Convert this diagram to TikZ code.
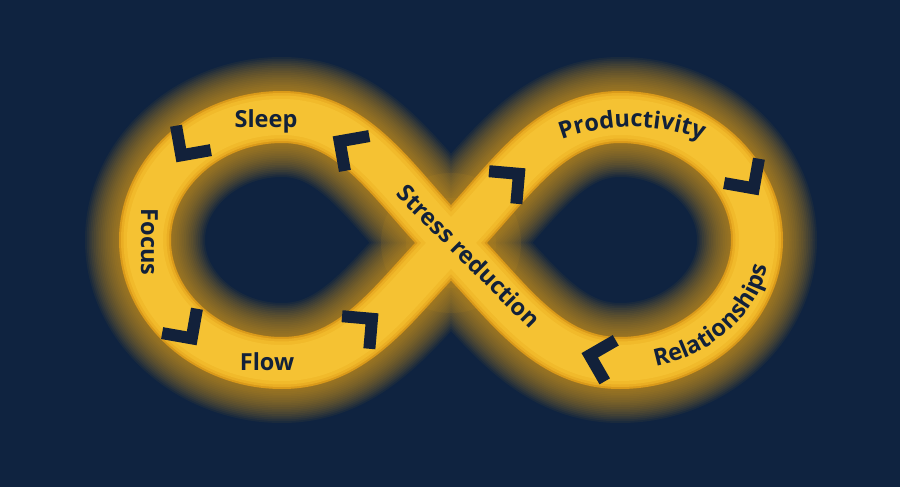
\documentclass[tikz,border=0pt]{standalone}
\usepackage{fontspec}
\setmainfont{Open Sans}
\usetikzlibrary{decorations.text}
\definecolor{bgc}{HTML}{0F2340}
\definecolor{glowc}{HTML}{E6A41A}
\definecolor{bandA}{HTML}{DA9A1A}
\definecolor{bandB}{HTML}{EAAE24}
\definecolor{bandC}{HTML}{F1BA2B}
\definecolor{bandD}{HTML}{F5C233}
\definecolor{inkc}{HTML}{12213A}
\newcommand\lblfont{\fontsize{23.5}{28}\selectfont\bfseries}
\newcommand\infpath{(C) .. controls (506,188) and (545,117) .. (RT)
  .. controls (695,117) and (757,173) .. (RR)
  .. controls (757,307) and (695,363) .. (RB)
  .. controls (545,363) and (506,298) .. (C)
  .. controls (396,188) and (357,117) .. (LT)
  .. controls (207,117) and (145,173) .. (LL)
  .. controls (145,307) and (207,363) .. (LB)
  .. controls (357,363) and (396,298) .. cycle}
\tikzset{
  lbl/.style={text=inkc, font=\lblfont, inner sep=0pt},
  chev/.pic={\fill[inkc] (15,0)--(-10.5,25.5)--(-19,17)--(-2,0)--(-19,-17)--(-10.5,-25.5)--cycle;},
  curvetext/.style={decorate, decoration={text along path, text={|\lblfont|#1}, text align=center, text color=inkc}}
}
\begin{document}
\begin{tikzpicture}[x=1pt,y=-1pt]
\useasboundingbox (0,0) rectangle (900,487);
\fill[bgc] (0,0) rectangle (900,487);
\coordinate (C) at (451,243);
\coordinate (RT) at (620,117);
\coordinate (RR) at (757,240);
\coordinate (RB) at (620,363);
\coordinate (LT) at (282,117);
\coordinate (LL) at (145,240);
\coordinate (LB) at (282,363);
% glow
\foreach \i in {1,...,20}{
  \draw[glowc, line width={(50+3.5*\i)*1pt}, opacity=0.055, line join=round] \infpath;
}
\fill[glowc, opacity=0.08] (C) circle (70);
\fill[glowc, opacity=0.08] (C) circle (45);
% band
\draw[bandA, line width=52pt] \infpath;
\draw[bandB, line width=48pt] \infpath;
\draw[bandC, line width=43pt] \infpath;
\draw[bandD, line width=36pt] \infpath;
% chevrons
\pic[rotate=-125] at (185,150) {chev};
\pic[rotate=145] at (345,145) {chev};
\pic[rotate=-55] at (188,333) {chev};
\pic[rotate=40] at (367,323) {chev};
\pic[rotate=40] at (514,178) {chev};
\pic[rotate=-55] at (750,183) {chev};
\pic[rotate=165] at (596,357) {chev};
% labels
\node[lbl, anchor=base] (sleep) at (266,128) {Sleep};
\node[lbl, anchor=base] (flow) at (267,370) {Flow};
\node[lbl, anchor=base, rotate=-90] (focus) at (141,242) {Focus};
\node[lbl, rotate=-45] (stress) at (469,256) {Stress reduction};
\path[curvetext=Productivity] (632,330) ++(-125:203) arc[start angle=-125, end angle=-55, radius=203];
\path[curvetext=Relationships] (620,245) ++(87:150 and 125) arc[start angle=87, end angle=-3, x radius=150, y radius=125];
\end{tikzpicture}
\end{document}
